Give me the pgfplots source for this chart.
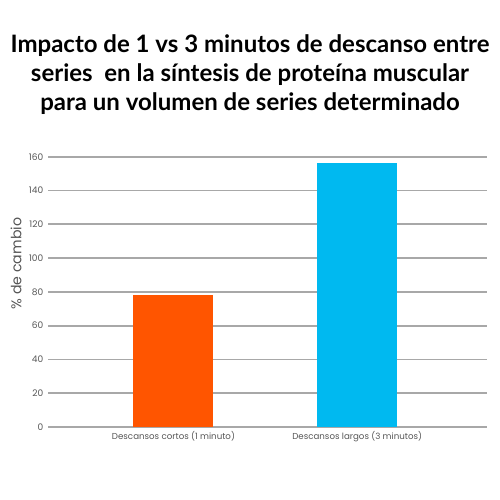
\documentclass[border=0pt]{standalone}
\usepackage{fontspec}
\setmainfont{Poppins}
\newfontfamily\titlefont{Lato}
\usepackage{pgfplots}
\pgfplotsset{compat=1.18}

\definecolor{barorange}{HTML}{FF5500}
\definecolor{barblue}{HTML}{00B9F0}
\definecolor{gridgray}{HTML}{A8A8A8}
\definecolor{txtgray}{HTML}{555555}

\begin{document}
\begin{tikzpicture}[x=1pt,y=1pt]
\useasboundingbox (0,0) rectangle (375,375);
\node[align=center, font=\titlefont\fontsize{18}{21.5}\selectfont\bfseries] at (187.5,319)
  {Impacto de 1 vs 3 minutos de descanso entre\\series\ \ en la síntesis de proteína muscular\\para un volumen de series determinado};
\begin{axis}[
    at={(36pt,54.75pt)}, anchor=south west,
    scale only axis,
    width=329pt, height=202.7pt,
    xmin=-0.683, xmax=1.705,
    ymin=0, ymax=160,
    ytick={0,20,...,160},
    xtick={0,1},
    xticklabels={Descansos cortos (1 minuto), Descansos largos (3 minutos)},
    axis line style={draw=none},
    major tick length=0pt,
    ymajorgrids,
    grid style={gridgray, line width=1.3pt},
    yticklabel style={font=\fontsize{6.8}{8}\selectfont, text=txtgray},
    xticklabel style={font=\fontsize{6.5}{8}\selectfont, text=txtgray},
    /pgf/number format/assume math mode=true,
    ylabel={\% de cambio},
    ylabel style={at={(axis description cs:-0.073,0.605)}, anchor=center,
      font=\fontsize{10.6}{12}\selectfont, text=txtgray},
    ybar, bar width=60pt,
    clip=false,
]
\addplot[fill=barorange, draw=none, bar shift=0pt] coordinates {(0,78.3)};
\addplot[fill=barblue, draw=none, bar shift=0pt] coordinates {(1,156)};
\end{axis}
\end{tikzpicture}
\end{document}
